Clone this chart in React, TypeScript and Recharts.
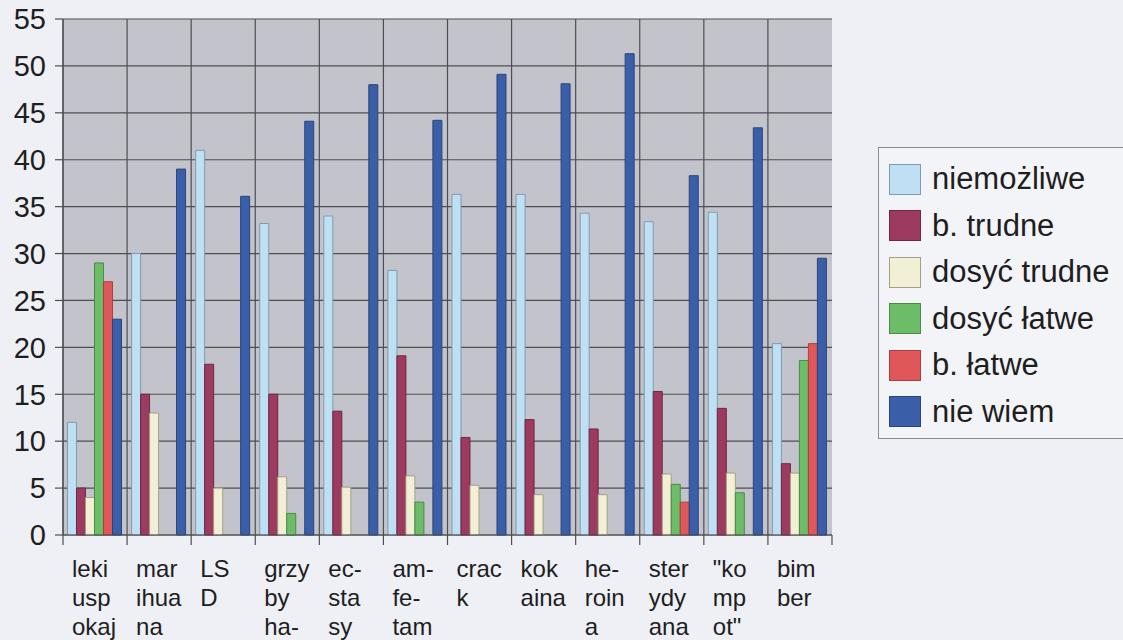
import { Bar, BarChart, CartesianGrid, Legend, XAxis, YAxis } from "recharts"

const categories = [
  "leki uspokajające",
  "marihuana",
  "LSD",
  "grzyby halucynogenne",
  "ecstasy",
  "amfetamina",
  "crack",
  "kokaina",
  "heroina",
  "sterydy anaboliczne",
  "\"kompot\"",
  "bimber",
]

// wrapped tick labels as they show under the axis
const tickLines = [
  ["leki", "usp", "okaj"],
  ["mar", "ihua", "na"],
  ["LS", "D"],
  ["grzy", "by", "ha-"],
  ["ec-", "sta", "sy"],
  ["am-", "fe-", "tam"],
  ["crac", "k"],
  ["kok", "aina"],
  ["he-", "roin", "a"],
  ["ster", "ydy", "ana"],
  ["\"ko", "mp", "ot\""],
  ["bim", "ber"],
]

const niemozliwe = [12, 30, 41, 33.2, 34, 28.2, 36.3, 36.3, 34.3, 33.4, 34.4, 20.4]
const bTrudne = [5, 15, 18.2, 15, 13.2, 19.1, 10.4, 12.3, 11.3, 15.3, 13.5, 7.6]
const dosycTrudne = [4, 13, 5, 6.2, 5.1, 6.3, 5.3, 4.3, 4.3, 6.5, 6.6, 6.6]
const dosycLatwe = [29, null, null, 2.3, null, 3.5, null, null, null, 5.4, 4.5, 18.6]
const bLatwe = [27, null, null, null, null, null, null, null, null, 3.5, null, 20.4]
const nieWiem = [23, 39, 36.1, 44.1, 48, 44.2, 49.1, 48.1, 51.3, 38.3, 43.4, 29.5]

const yTicks = [0, 5, 10, 15, 20, 25, 30, 35, 40, 45, 50, 55]

const SERIES = [
  { key: "niemozliwe", name: "niemożliwe", fill: "#bfe0f4", stroke: "#7f9cae" },
  { key: "bTrudne", name: "b. trudne", fill: "#9c3a5f", stroke: "#6e2842" },
  { key: "dosycTrudne", name: "dosyć trudne", fill: "#f2f0d4", stroke: "#a3a08a" },
  { key: "dosycLatwe", name: "dosyć łatwe", fill: "#6cbc68", stroke: "#4c8a4a" },
  { key: "bLatwe", name: "b. łatwe", fill: "#e0575a", stroke: "#a9403f" },
  { key: "nieWiem", name: "nie wiem", fill: "#3b5ea9", stroke: "#2a447c" },
]

const data = categories.map((c, i) => ({
  name: c,
  niemozliwe: niemozliwe[i],
  bTrudne: bTrudne[i],
  dosycTrudne: dosycTrudne[i],
  dosycLatwe: dosycLatwe[i],
  bLatwe: bLatwe[i],
  nieWiem: nieWiem[i],
}))

const W = 1123
const H = 640
const MARGIN = { top: 19, right: 291, left: 0, bottom: 0 }
const Y_W = 63
const PLOT_W = W - MARGIN.left - MARGIN.right - Y_W
const BAND = PLOT_W / categories.length
const FONT = "'Liberation Sans', Arial, sans-serif"
const GRID_COLOR = "#4e4e52"
const TEXT = "#1e1e1e"

function CategoryTick(props: any) {
  const { x, y, index } = props
  const left = x - BAND / 2
  const lines = tickLines[index] || []
  return (
    <g>
      <line x1={left} y1={y - 8} x2={left} y2={y + 2} stroke={GRID_COLOR} strokeWidth={1.2} />
      {index === categories.length - 1 && (
        <line x1={x + BAND / 2} y1={y - 8} x2={x + BAND / 2} y2={y + 2} stroke={GRID_COLOR} strokeWidth={1.2} />
      )}
      {lines.map((l, i) => (
        <text key={i} x={left + 9} y={y + 34 + i * 29} fill={TEXT} fontSize={24} fontFamily={FONT}>
          {l}
        </text>
      ))}
    </g>
  )
}

function LegendBox() {
  return (
    <div
      style={{
        width: 260,
        height: 292,
        boxSizing: "border-box",
        border: "1.5px solid #8a8a90",
        background: "#f3f4f8",
        padding: "8px 0 0 10px",
        fontFamily: FONT,
      }}
    >
      {SERIES.map((s) => (
        <div key={s.key} style={{ display: "flex", alignItems: "center", height: 46.5 }}>
          <span
            style={{
              width: 32,
              height: 31,
              background: s.fill,
              border: `1.5px solid ${s.stroke}`,
              boxSizing: "border-box",
              marginRight: 11,
            }}
          />
          <span style={{ fontSize: 31, color: TEXT }}>{s.name}</span>
        </div>
      ))}
    </div>
  )
}

export default function App() {
  return (
    <div style={{ position: "absolute", left: 0, top: 0, width: W, height: H, background: "#eef0f5" }}>
      <BarChart
        width={W}
        height={H}
        data={data}
        margin={MARGIN}
        barCategoryGap="7%"
        barGap={0}
      >
        <CartesianGrid
          fill="#c3c3cb"
          stroke={GRID_COLOR}
          strokeWidth={1.2}
          verticalCoordinatesGenerator={({ offset }: any) =>
            categories.map((_, i) => offset.left + (i * offset.width) / categories.length)
          }
        />
        <XAxis
          dataKey="name"
          height={105}
          interval={0}
          tickLine={false}
          axisLine={{ stroke: GRID_COLOR, strokeWidth: 1.2 }}
          tick={<CategoryTick />}
        />
        <YAxis
          domain={[0, 55]}
          ticks={yTicks}
          width={Y_W}
          interval={0}
          tickSize={8}
          tickMargin={9}
          tickLine={{ stroke: GRID_COLOR, strokeWidth: 1.2 }}
          axisLine={{ stroke: GRID_COLOR, strokeWidth: 1.2 }}
          tick={{ fill: TEXT, fontSize: 29, fontFamily: FONT }}
        />
        {/* plot's right border is lighter than the grid */}
        <YAxis
          yAxisId="right"
          orientation="right"
          width={0}
          tick={false}
          tickLine={false}
          axisLine={{ stroke: "#9a9aa2", strokeWidth: 1.2 }}
        />
        <Legend
          layout="vertical"
          align="center"
          verticalAlign="middle"
          wrapperStyle={{ left: 878, top: 147, width: 260 }}
          content={() => <LegendBox />}
        />
        {SERIES.map((s) => (
          <Bar
            key={s.key}
            dataKey={s.key}
            name={s.name}
            fill={s.fill}
            stroke={s.stroke}
            strokeWidth={1}
            isAnimationActive={false}
          />
        ))}
      </BarChart>
    </div>
  )
}
